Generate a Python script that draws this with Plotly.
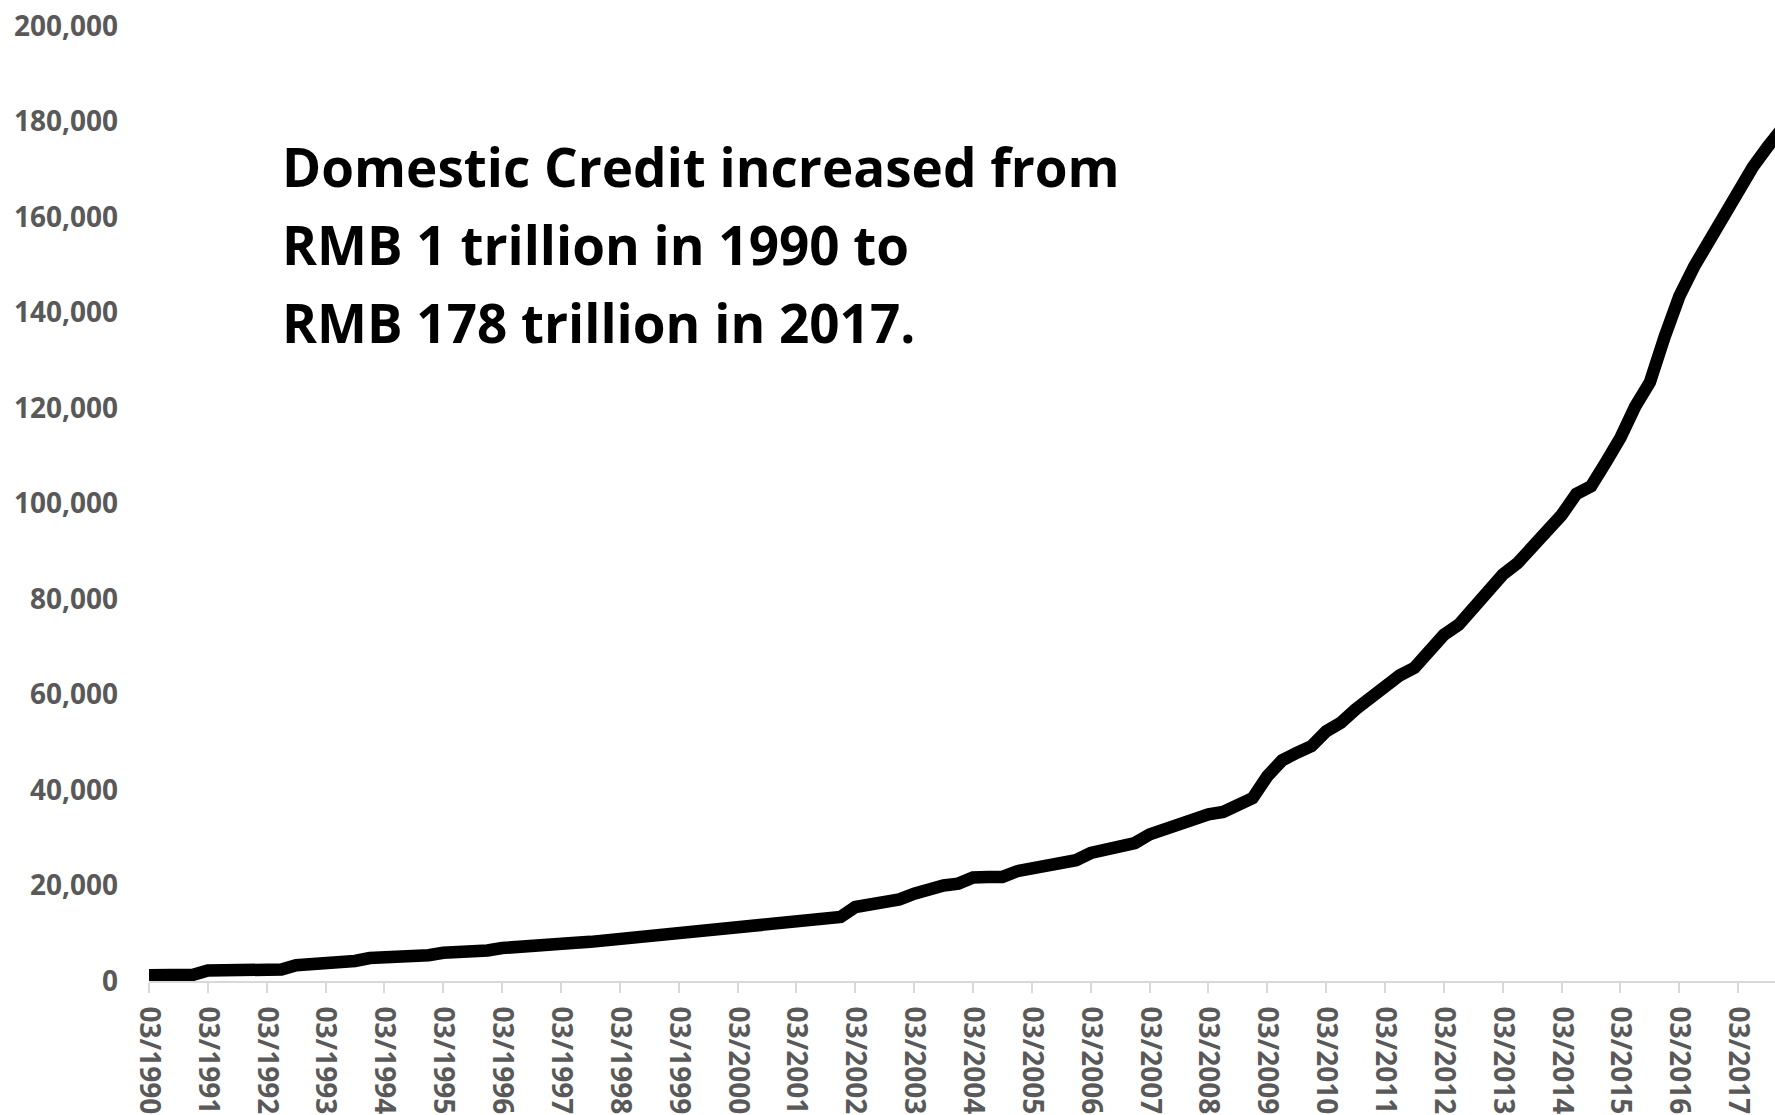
import plotly.graph_objects as go

# Quarter labels (category axis), 03/1990 .. 12/2017
quarters = [f"{m}/{y}" for y in range(1990, 2018) for m in ("03", "06", "09", "12")]

# Domestic credit, RMB billion
credit = [
    1200, 1200, 1200, 1300,        # 1990
    2200, 2200, 2300, 2300,        # 1991
    2300, 2400, 3300, 3400,        # 1992
    4100, 4100, 4200, 4800,        # 1993
    4900, 4900, 5300, 5400,        # 1994
    5900, 5900, 5900, 6400,        # 1995
    6900, 7000, 7500, 7600,        # 1996
    7700, 8000, 8200, 8500,        # 1997
    8600, 9100, 9600, 10100,       # 1998
    10100, 10200, 10700, 11300,    # 1999
    11300, 11400, 11800, 12200,    # 2000
    12200, 12600, 13000, 13400,    # 2001
    15500, 16000, 16600, 17100,    # 2002
    18300, 19500, 20000, 20400,    # 2003
    21700, 21800, 21800, 23000,    # 2004
    23600, 24100, 24700, 25300,    # 2005
    26800, 27400, 27900, 28900,    # 2006
    30700, 31800, 32800, 33800,    # 2007
    34900, 35400, 36600, 38300,    # 2008
    42900, 46200, 47800, 49200,    # 2009
    52300, 54100, 56900, 59400,    # 2010
    61800, 64000, 65600, 68700,    # 2011
    72500, 74600, 78000, 81500,    # 2012
    85100, 87500, 90800, 93600,    # 2013
    97600, 102000, 103600, 108600, # 2014
    113800, 120300, 125400, 134900,# 2015
    143400, 149600, 155000, 160600,# 2016
    165600, 170500, 174700, 178600,# 2017
]

tick_labels = [q for q in quarters if q.startswith("03/")]
y_ticks = list(range(0, 200001, 20000))

annotation_lines = [
    "Domestic Credit increased from",
    "RMB 1 trillion in 1990 to",
    "RMB 178 trillion in 2017.",
]

fig = go.Figure()
fig.add_trace(go.Scatter(
    x=quarters, y=credit, mode="lines",
    line=dict(color="#000000", width=12.5),
    hoverinfo="skip", showlegend=False,
))

tick_font = dict(family="Open Sans", size=28, color="#595959", weight="bold")

fig.update_layout(
    width=1775, height=1115, autosize=False,
    margin=dict(l=149, r=0, t=26, b=134, pad=0),
    paper_bgcolor="white", plot_bgcolor="white",
    xaxis=dict(
        type="category",
        range=[0, 110.5],
        tickmode="array", tickvals=tick_labels, ticktext=tick_labels,
        tickangle=90, tickfont=tick_font,
        showline=True, linecolor="#d9d9d9", linewidth=2,
        ticks="outside", ticklen=10, tickwidth=2, tickcolor="#d9d9d9",
        showgrid=False, zeroline=False,
        ticklabelstandoff=8,
    ),
    yaxis=dict(
        range=[0, 200000],
        tickmode="array", tickvals=y_ticks,
        tickformat=",", tickfont=tick_font,
        showgrid=False, zeroline=False, showline=False, ticks="",
        ticklabelstandoff=30,
    ),
)

line_y = [0.853, 0.7713, 0.6896]
for txt, yy in zip(annotation_lines, line_y):
    fig.add_annotation(
        text=txt, xref="paper", yref="paper", x=0.0803, y=yy,
        xanchor="left", yanchor="middle", showarrow=False,
        font=dict(family="Open Sans", size=53, color="#000000", weight="bold"),
    )

fig.write_html("out.html")
